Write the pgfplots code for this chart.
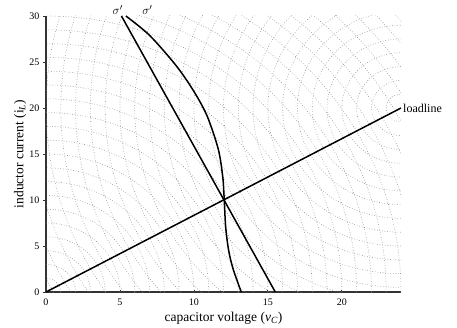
\documentclass[border=0pt]{standalone}
\usepackage{fontspec}
\setmainfont{Liberation Serif}
\usepackage{pgfplots}
\pgfplotsset{compat=1.18}
\begin{document}
\begin{tikzpicture}
\begin{axis}[
  scale only axis,
  width=355pt, height=276pt,
  xmin=0, xmax=24, ymin=0, ymax=30,
  axis lines*=left,
  axis line style={line width=1.2pt, black!80},
  xtick={0,5,10,15,20}, ytick={0,5,10,15,20,25,30},
  x tick style={black!80, line width=0.8pt, yshift=2pt},
  y tick style={black!80, line width=0.8pt},
  tick align=outside,
  major tick length=3pt,
  /pgf/number format/assume math mode=true,
  tick label style={font=\fontsize{10}{10}\selectfont},
  xlabel={capacitor voltage (\textit{v}\textsubscript{\textit{C}})},
  ylabel={inductor current (i\textsubscript{\textit{L}})},
  label style={font=\fontsize{13.5}{13.5}\selectfont},
  xlabel style={at={(axis description cs:0.5,-0.094)}, anchor=center},
  ylabel style={at={(axis description cs:-0.073,0.5)}, anchor=center},
]
\pgfplotsinvokeforeach{1,...,33}{
  \draw[black!45, dotted, line width=0.6pt] (axis cs:0,0) ellipse [x radius=#1, y radius={1.5*#1}];
}
\pgfplotsinvokeforeach{1,...,29}{
  \draw[black!45, dotted, line width=0.6pt] (axis cs:24,20) ellipse [x radius=#1, y radius={1.5*#1}];
}
% loadline
\addplot[black, line width=1.5pt] coordinates {(0,0) (24,20)};
% straight switching line
\addplot[black, line width=1.5pt] coordinates {(5.1,30) (15.5,0)};
% curved switching line
\addplot[black, line width=1.5pt, smooth] coordinates {
  (5.4,30) (7.0,27.9) (8.8,24.6) (10.0,21.8) (10.9,19.1) (11.65,15.5) (11.95,12.5)
  (12.05,10) (12.15,7) (12.35,4.5) (12.65,2.5) (13.2,0)};
\coordinate (ll) at (axis cs:24,20);
\coordinate (s1) at (axis cs:4.85,30);
\coordinate (s2) at (axis cs:6.85,30);
\end{axis}
\node[anchor=west, font=\fontsize{12}{12}\selectfont, inner sep=1pt] at ([xshift=1pt]ll) {loadline};
\node[anchor=base, inner sep=0pt, font=\fontsize{13}{13}\selectfont] at ([yshift=1pt]s1) {$\sigma'$};
\node[anchor=base, inner sep=0pt, font=\fontsize{13}{13}\selectfont] at ([yshift=1pt]s2) {$\sigma'$};
\pgfresetboundingbox
\path[use as bounding box] ([shift={(-46pt,-35pt)}]current axis.south west) rectangle ([shift={(56pt,16pt)}]current axis.north east);
\end{tikzpicture}
\end{document}
